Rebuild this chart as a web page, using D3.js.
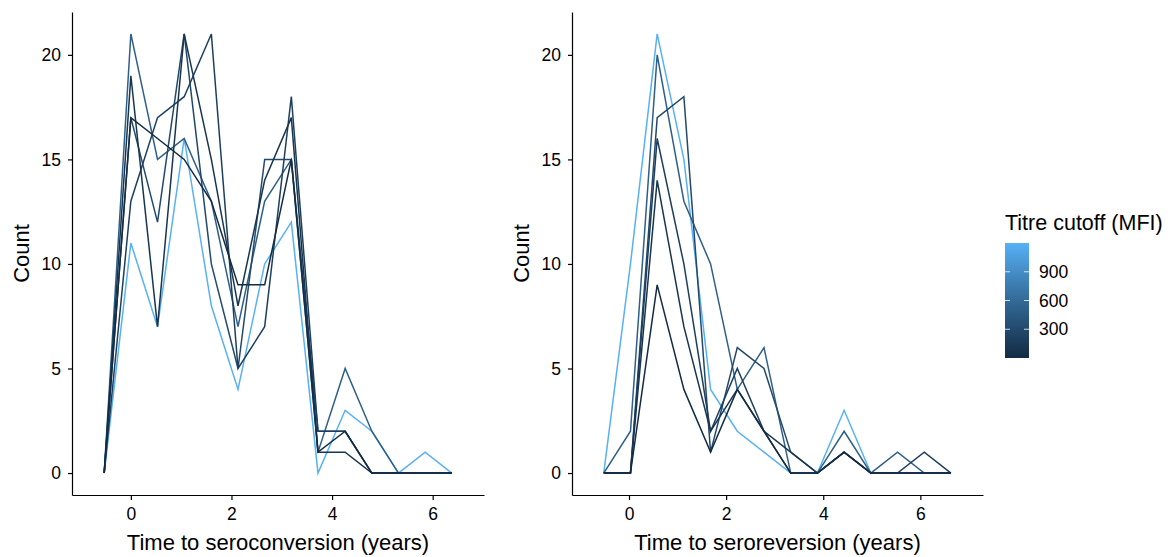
<!DOCTYPE html>
<meta charset="utf-8">
<style>
  body { margin: 0; background: #fff; }
  svg text { font-family: "Liberation Sans", Arial, sans-serif; fill: #000; }
</style>
<body>
<script src="https://d3js.org/d3.v7.min.js"></script>
<script>
// bin centres (years) for each panel
var convX = [-0.53, 0, 0.53, 1.06, 1.6, 2.13, 2.66, 3.19, 3.72, 4.26, 4.79, 5.32, 5.85, 6.38];
var revX  = [-0.52, 0.03, 0.58, 1.13, 1.68, 2.23, 2.78, 3.33, 3.88, 4.43, 4.98, 5.53, 6.08, 6.63];

// titre cutoffs (MFI), one line per cutoff
var cutoffs = [1200, 500, 300, 200, 100, 0];

// counts, time to seroconversion
var conv1200 = [0, 11, 7, 16, 8, 4, 10, 12, 0, 3, 2, 0, 1, 0];
var conv500  = [0, 21, 15, 16, 13, 7, 13, 15, 1, 5, 2, 0, 0, 0];
var conv300  = [0, 17, 12, 21, 10, 5, 15, 15, 2, 2, 0, 0, 0, 0];
var conv200  = [0, 13, 17, 18, 21, 5, 7, 18, 2, 2, 0, 0, 0, 0];
var conv100  = [0, 19, 7, 21, 15, 8, 14, 17, 1, 1, 0, 0, 0, 0];
var conv0    = [0, 17, 16, 15, 13, 9, 9, 15, 1, 2, 0, 0, 0, 0];

// counts, time to seroreversion
var rev1200 = [0, 10, 21, 15, 4, 2, 1, 0, 0, 3, 0, 0, 0, 0];
var rev500  = [0, 2, 20, 13, 10, 4, 6, 0, 0, 2, 0, 1, 0, 0];
var rev300  = [0, 0, 17, 18, 1, 6, 5, 1, 0, 1, 0, 0, 0, 0];
var rev200  = [0, 0, 16, 10, 2, 5, 2, 0, 0, 1, 0, 0, 1, 0];
var rev100  = [0, 0, 14, 7, 2, 4, 2, 1, 0, 1, 0, 0, 0, 0];
var rev0    = [0, 0, 9, 4, 1, 4, 2, 0, 0, 1, 0, 0, 0, 0];

var yTicks = [0, 5, 10, 15, 20];
var xTicks = [0, 2, 4, 6];
var legendTicks = [300, 600, 900];

var W = 1171, H = 557;
var svg = d3.select("body").append("svg").attr("width", W).attr("height", H);

var color = d3.scaleLinear().domain([0, 1200])
    .range(["#132B43", "#56B1F7"]).interpolate(d3.interpolateLab);

var y = d3.scaleLinear().domain([-1.05, 22.05]).range([495, 12]);

var panels = [
  {left: 72, right: 484, domain: [-1.17, 7.02], xs: convX,
   series: [conv1200, conv500, conv300, conv200, conv100, conv0],
   title: "Time to seroconversion (years)", countX: 29},
  {left: 572, right: 983, domain: [-1.174, 7.29], xs: revX,
   series: [rev1200, rev500, rev300, rev200, rev100, rev0],
   title: "Time to seroreversion (years)", countX: 529}
];

panels.forEach(function(p) {
  var x = d3.scaleLinear().domain(p.domain).range([p.left, p.right]);

  var line = d3.line()
      .x(function(d, i) { return x(p.xs[i]); })
      .y(function(d) { return y(d); });

  svg.append("g").selectAll("path")
      .data(p.series)
    .enter().append("path")
      .attr("d", line)
      .attr("fill", "none")
      .attr("stroke", function(d, i) { return color(cutoffs[i]); })
      .attr("stroke-width", 1.5)
      .attr("stroke-linejoin", "miter");

  var gx = svg.append("g")
      .attr("transform", "translate(0,495)")
      .call(d3.axisBottom(x).tickValues(xTicks).tickSize(5).tickSizeOuter(0).tickPadding(8));
  var gy = svg.append("g")
      .attr("transform", "translate(" + p.left + ",0)")
      .call(d3.axisLeft(y).tickValues(yTicks).tickSize(4).tickSizeOuter(0).tickPadding(7));

  [gx, gy].forEach(function(g) {
    g.select(".domain").attr("stroke", "#000").attr("stroke-width", 1.2);
    g.selectAll(".tick line").attr("stroke", "#000").attr("stroke-width", 1.2);
    g.selectAll(".tick text").attr("font-size", 17.5).attr("fill", "#000")
        .style("font-family", "'Liberation Sans', Arial, sans-serif");
  });

  svg.append("text")
      .attr("x", (p.left + p.right) / 2)
      .attr("y", 550)
      .attr("text-anchor", "middle")
      .attr("font-size", 22)
      .text(p.title);

  svg.append("text")
      .attr("transform", "translate(" + p.countX + "," + 253.5 + ") rotate(-90)")
      .attr("text-anchor", "middle")
      .attr("font-size", 22)
      .text("Count");
});

// colour bar legend
var barX = 1005, barW = 24, barTop = 243, barBot = 358;
var ly = d3.scaleLinear().domain([0, 1200]).range([barBot, barTop]);

var defs = svg.append("defs");
var grad = defs.append("linearGradient").attr("id", "cbar")
    .attr("x1", 0).attr("y1", 1).attr("x2", 0).attr("y2", 0);
d3.range(0, 1.0001, 0.1).forEach(function(t) {
  grad.append("stop").attr("offset", t).attr("stop-color", color(t * 1200));
});

svg.append("text")
    .attr("x", barX)
    .attr("y", 230)
    .attr("font-size", 21.5)
    .text("Titre cutoff (MFI)");

svg.append("rect")
    .attr("x", barX).attr("y", barTop)
    .attr("width", barW).attr("height", barBot - barTop)
    .attr("fill", "url(#cbar)");

var lt = svg.append("g").selectAll("g")
    .data(legendTicks)
  .enter().append("g");
lt.append("line")
    .attr("x1", barX).attr("x2", barX + 5)
    .attr("y1", function(d) { return ly(d); }).attr("y2", function(d) { return ly(d); })
    .attr("stroke", "#fff").attr("stroke-opacity", 0.8).attr("stroke-width", 1);
lt.append("line")
    .attr("x1", barX + barW - 5).attr("x2", barX + barW)
    .attr("y1", function(d) { return ly(d); }).attr("y2", function(d) { return ly(d); })
    .attr("stroke", "#fff").attr("stroke-opacity", 0.8).attr("stroke-width", 1);
lt.append("text")
    .attr("x", barX + barW + 10)
    .attr("y", function(d) { return ly(d); })
    .attr("dy", "0.35em")
    .attr("font-size", 17.5)
    .text(function(d) { return d; });
</script>
</body>
